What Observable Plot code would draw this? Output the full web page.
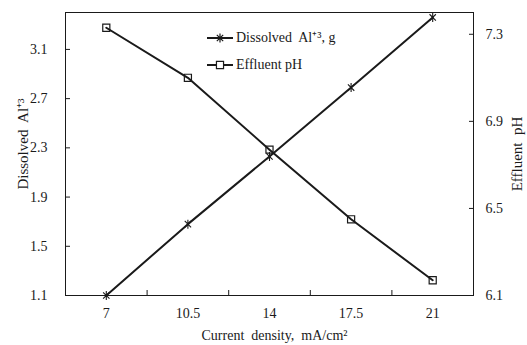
<!DOCTYPE html>
<html>
<head>
<meta charset="utf-8">
<script src="https://cdn.jsdelivr.net/npm/d3@7"></script>
<script src="https://cdn.jsdelivr.net/npm/@observablehq/plot@0.6"></script>
<style>
  html, body { margin: 0; padding: 0; background: #fff; }
  #wrap { position: relative; width: 527px; height: 345px; overflow: hidden; font-family: "Liberation Serif", "Times New Roman", serif; color: #1a1a1a; }
  #legend { position: absolute; left: 206px; top: 28px; font-size: 14px; line-height: 1; }
  #legend .row { display: flex; align-items: center; height: 20px; margin-bottom: 7px; }
  #legend svg { display: block; margin-right: 2px; }
</style>
</head>
<body>
<div id="wrap">
  <div id="chart"></div>
  <div id="legend"></div>
</div>
<script>
// Current density categories (mA/cm²)
const categories = ["7", "10.5", "14", "17.5", "21"];
// Dissolved Al+3 (g), left axis
const dissolvedAl = [1.1, 1.68, 2.23, 2.79, 3.36];
// Effluent pH, right axis
const effluentPH = [7.33, 7.10, 6.77, 6.45, 6.17];

const alDomain = [1.1, 3.4];
const phDomain = [6.1, 7.4];
const alTicks = [1.1, 1.5, 1.9, 2.3, 2.7, 3.1];
const phTicks = [6.1, 6.5, 6.9, 7.3];

const seriesNames = ["Dissolved\u00a0 Al\u207a\u00b3, g", "Effluent pH"];
const titles = {
  x: "Current\u00a0 density,\u00a0 mA/cm\u00b2",
  left: "Dissolved\u00a0 Al\u207a\u00b3",
  right: "Effluent\u00a0 pH"
};

// map a pH value onto the shared (left) y scale
const phToAl = ph => alDomain[0] + (ph - phDomain[0]) * (alDomain[1] - alDomain[0]) / (phDomain[1] - phDomain[0]);

const idx = categories.map((_, i) => i + 1);
const alData = idx.map((i, k) => ({i, v: dissolvedAl[k]}));
const phData = idx.map((i, k) => ({i, v: phToAl(effluentPH[k])}));
const boundaries = idx.slice(0, -1).map(i => i + 0.5);

// star marker: an X crossed by a vertical stroke
const star = {
  draw(context, size) {
    const r = Math.sqrt(size / Math.PI);
    const d = r * Math.SQRT1_2;
    context.moveTo(-d, -d); context.lineTo(d, d);
    context.moveTo(-d, d); context.lineTo(d, -d);
    context.moveTo(0, -r); context.lineTo(0, r);
  }
};

const ink = "#1a1a1a";
const serif = "'Liberation Serif', 'Times New Roman', serif";

const chart = Plot.plot({
  width: 527,
  height: 345,
  marginLeft: 65,
  marginRight: 54,
  marginTop: 12,
  marginBottom: 50,
  style: {fontFamily: serif, fontSize: "14px", color: ink, background: "#fff"},
  x: {domain: [0.5, categories.length + 0.5]},
  y: {domain: alDomain},
  marks: [
    Plot.frame({stroke: ink, strokeWidth: 1}),
    // x axis: labels at category centres, inward ticks on category boundaries
    Plot.axisX({ticks: idx, tickSize: 0, tickPadding: 13, tickFormat: i => categories[i - 1], label: null}),
    Plot.axisX({ticks: boundaries, tickSize: -5, tickFormat: () => "", label: null, stroke: ink}),
    // left axis
    Plot.axisY({anchor: "left", ticks: alTicks, tickSize: 0, tickPadding: 18, tickFormat: d => d.toFixed(1), label: null}),
    Plot.axisY({anchor: "left", ticks: alTicks, tickSize: -5, tickFormat: () => "", label: null, stroke: ink}),
    // right axis (pH)
    Plot.axisY({anchor: "right", ticks: phTicks.map(phToAl), tickSize: 0, tickPadding: 12,
      tickFormat: (d, k) => phTicks[k].toFixed(1), label: null}),
    Plot.axisY({anchor: "right", ticks: phTicks.map(phToAl), tickSize: -5, tickFormat: () => "", label: null, stroke: ink}),
    // axis titles
    Plot.text([titles.left], {frameAnchor: "left", textAnchor: "middle", lineAnchor: "middle", rotate: -90, dx: -42, dy: -10, fontSize: 15, fill: ink}),
    Plot.text([titles.right], {frameAnchor: "right", textAnchor: "middle", lineAnchor: "middle", rotate: -90, dx: 44, dy: 0, fontSize: 15, fill: ink}),
    Plot.text([titles.x], {frameAnchor: "bottom", textAnchor: "middle", lineAnchor: "middle", dy: 40, dx: 5, fontSize: 14, fill: ink}),
    // series
    Plot.line(alData, {x: "i", y: "v", stroke: ink, strokeWidth: 2}),
    Plot.line(phData, {x: "i", y: "v", stroke: ink, strokeWidth: 2}),
    Plot.dot(alData, {x: "i", y: "v", symbol: star, r: 4.5, stroke: ink, strokeWidth: 1.1}),
    Plot.dot(phData, {x: "i", y: "v", symbol: "square", r: 4, stroke: ink, strokeWidth: 1.2, fill: "none"})
  ]
});
document.getElementById("chart").append(chart);

// legend
const legend = d3.select("#legend");
const symbols = [star, d3.symbolSquare];
seriesNames.forEach((name, k) => {
  const row = legend.append("div").attr("class", "row");
  const s = row.append("svg").attr("width", 28).attr("height", 14);
  s.append("line").attr("x1", 1).attr("x2", 27).attr("y1", 7).attr("y2", 7).attr("stroke", ink).attr("stroke-width", 2);
  s.append("path").attr("transform", "translate(14,7)")
    .attr("d", d3.symbol(symbols[k], (k === 1 ? 4 : 4.5) ** 2 * Math.PI)())
    .attr("fill", k === 1 ? "#fff" : "none").attr("stroke", ink).attr("stroke-width", 1.2);
  row.append("span").text(name);
});
</script>
</body>
</html>
